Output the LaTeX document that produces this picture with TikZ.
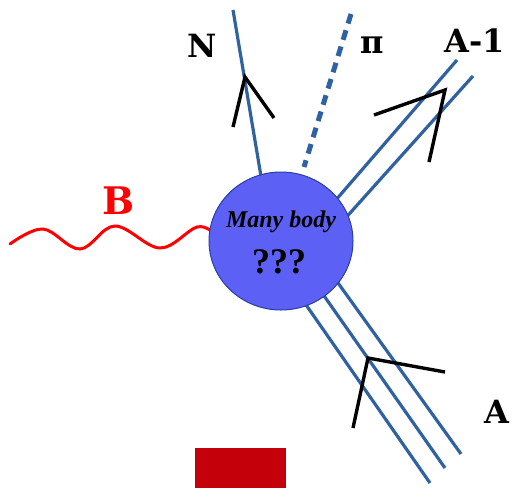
\documentclass[tikz,border=0pt]{standalone}
\usepackage{fontspec}
\usetikzlibrary{shapes.geometric}
\newfontfamily\labfont{DejaVu Serif}
\newfontfamily\bodyfont{Liberation Serif}
\definecolor{legblue}{RGB}{48,98,162}
\definecolor{blobfill}{RGB}{92,96,245}
\definecolor{blobline}{RGB}{40,62,160}
\definecolor{boxred}{RGB}{196,0,10}

\begin{document}
\begin{tikzpicture}[x=1pt,y=-1pt,
		leg/.style={legblue, line width=3.2pt},
		chev/.style={black, line width=3.4pt, line join=miter},
		lab/.style={font=\labfont\bfseries\fontsize{32}{32}\selectfont, inner sep=0pt}]
			\useasboundingbox (0,0) rectangle (518,488);
			% end points of the legs
			\coordinate (nTop) at (233,10);
			\coordinate (nLow) at (265,200);
			\coordinate (piTop) at (351,14);
			\coordinate (piLow) at (304,167);
			\coordinate (aoA) at (457,60);
			\coordinate (aoB) at (473,76);
			\coordinate (aA) at (430,483);
			\coordinate (aB) at (445,468);
			\coordinate (aC) at (461,454);
			\coordinate (bEnd) at (10,244);
			\coordinate (blob) at (281,241);
			% legs
			\draw[leg] (nTop) -- (nLow);
			\draw[leg, line width=5pt, dash pattern=on 10pt off 7pt] (piTop) -- (piLow);
			\draw[leg] (aoA) -- (322,216);
			\draw[leg] (aoB) -- (333,232);
			\draw[leg] (aA) -- (295,289);
			\draw[leg] (aB) -- (315,283);
			\draw[leg] (aC) -- (328,269);
			\draw[red, line width=3pt, line cap=round] plot[smooth, tension=0.6] coordinates {(bEnd) (43,229) (80,249) (115,226) (160,248) (197,227) (215,234)};
			% the many body blob
			\node[ellipse, draw=blobline, fill=blobfill, line width=1pt, minimum width=144pt, minimum height=138pt, inner sep=0pt] (mb) at (blob) {};
			\node[font=\bodyfont\bfseries\itshape\fontsize{24}{24}\selectfont, inner sep=0pt] (mbtop) at (281,222) {Many body};
			\node[font=\bodyfont\bfseries\fontsize{36}{36}\selectfont, inner sep=0pt] (mbq) at (279,262) {???};
			% arrows
			\draw[chev] (233,127) -- (245,77) -- (274,118);
			\draw[chev] (374,115) -- (445,90) -- (429,162);
			\draw[chev] (353,428) -- (368,358) -- (445,372);
			% labels
			\node[lab] (nlab) at (202,46) {N};
			\node[lab] (pilab) at (372,45) {π};
			\node[lab] (aolab) at (475,41) {A-1};
			\node[lab] (alab) at (497,412) {A};
			\node[lab, red, font=\labfont\bfseries\fontsize{38}{38}\selectfont] (blab) at (119,201) {B};
			\fill[boxred] (195,448) rectangle (286,488);
			\end{tikzpicture}
\end{document}
